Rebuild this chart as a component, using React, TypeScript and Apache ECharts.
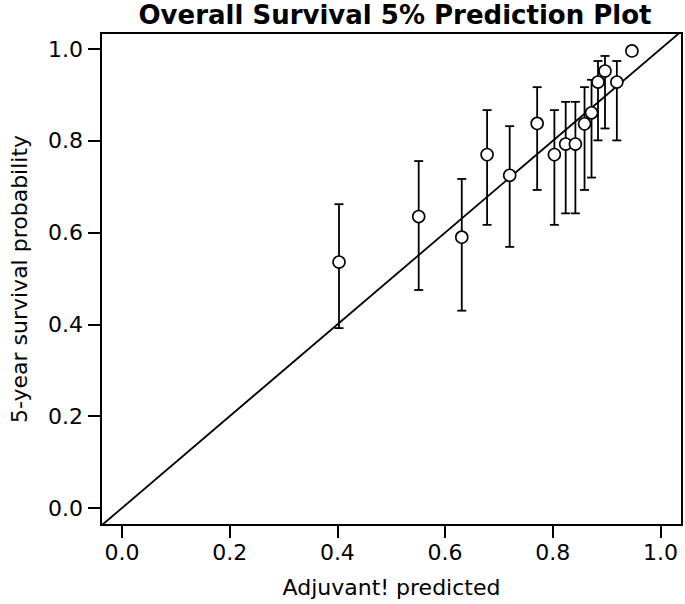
import React, { useEffect, useRef } from "react";
import * as echarts from "echarts";

const predicted = [0.403, 0.551, 0.631, 0.678, 0.72, 0.771, 0.803, 0.824, 0.842, 0.859, 0.872, 0.884, 0.897, 0.919, 0.947];
const observed = [0.536, 0.635, 0.59, 0.77, 0.725, 0.838, 0.77, 0.793, 0.793, 0.837, 0.861, 0.928, 0.952, 0.928, 0.996];
const lower = [0.392, 0.475, 0.43, 0.617, 0.569, 0.693, 0.617, 0.642, 0.642, 0.693, 0.72, 0.801, 0.827, 0.801, 0.996];
const upper = [0.662, 0.756, 0.717, 0.867, 0.832, 0.917, 0.867, 0.885, 0.885, 0.917, 0.933, 0.974, 0.985, 0.974, 0.996];
const tickValues = [0, 0.2, 0.4, 0.6, 0.8, 1.0];

const FONT = "DejaVu Sans, Liberation Sans, Arial, sans-serif";

export default function App() {
  const ref = useRef<HTMLDivElement>(null);
  useEffect(() => {
    const chart = echarts.init(ref.current!, null, { renderer: "svg" });
    const errData = predicted.map((x, i) => [x, lower[i], upper[i]]);
    chart.setOption({
      animation: false,
      backgroundColor: "#fff",
      title: {
        text: "Overall Survival 5% Prediction Plot",
        left: 390,
        textAlign: "center",
        top: -3,
        textStyle: { fontFamily: FONT, fontWeight: "bold", fontSize: 26, color: "#000" },
      },
      grid: {
        left: 93,
        right: 3,
        top: 33,
        bottom: 79,
        show: true,
        borderColor: "#000",
        borderWidth: 2,
        backgroundColor: "transparent",
      },
      xAxis: {
        type: "value",
        min: -0.039,
        max: 1.04,
        name: "Adjuvant! predicted",
        nameLocation: "middle",
        nameGap: 51,
        nameTextStyle: { fontFamily: FONT, fontSize: 22, color: "#000" },
        splitLine: { show: false },
        axisLine: { show: true, onZero: false, lineStyle: { color: "#000", width: 2 } },
        axisTick: { show: true, customValues: tickValues, length: 13, lineStyle: { color: "#000", width: 2 } },
        axisLabel: {
          customValues: tickValues,
          formatter: (v: number) => v.toFixed(1),
          fontFamily: FONT,
          fontSize: 22,
          color: "#000",
          margin: 16,
        },
      },
      yAxis: {
        type: "value",
        min: -0.037,
        max: 1.035,
        name: "5-year survival probability",
        nameLocation: "middle",
        nameGap: 71,
        nameTextStyle: { fontFamily: FONT, fontSize: 22, color: "#000" },
        splitLine: { show: false },
        axisLine: { show: true, onZero: false, lineStyle: { color: "#000", width: 2 } },
        axisTick: { show: true, customValues: tickValues, length: 13, lineStyle: { color: "#000", width: 2 } },
        axisLabel: {
          customValues: tickValues,
          formatter: (v: number) => v.toFixed(1),
          fontFamily: FONT,
          fontSize: 22,
          color: "#000",
          margin: 18,
        },
      },
      series: [
        {
          type: "line",
          data: [[-0.2, -0.2], [1.2, 1.2]],
          symbol: "none",
          clip: true,
          lineStyle: { color: "#000", width: 1.8 },
          silent: true,
          z: 1,
        },
        {
          type: "custom",
          data: errData,
          clip: true,
          z: 2,
          renderItem: (params: any, api: any) => {
            const x = api.value(0);
            const lo = api.coord([x, api.value(1)]);
            const hi = api.coord([x, api.value(2)]);
            const hw = 4.5;
            const style = { stroke: "#000", lineWidth: 1.8, fill: "none" };
            if (Math.abs(lo[1] - hi[1]) < 1) return { type: "group", children: [] };
            return {
              type: "group",
              children: [
                { type: "line", shape: { x1: lo[0], y1: lo[1], x2: hi[0], y2: hi[1] }, style },
                { type: "line", shape: { x1: lo[0] - hw, y1: lo[1], x2: lo[0] + hw, y2: lo[1] }, style },
                { type: "line", shape: { x1: hi[0] - hw, y1: hi[1], x2: hi[0] + hw, y2: hi[1] }, style },
              ],
            };
          },
        },
        {
          type: "scatter",
          data: predicted.map((x, i) => [x, observed[i]]),
          symbol: "circle",
          symbolSize: 12,
          itemStyle: { color: "#fff", borderColor: "#000", borderWidth: 1.6, opacity: 1 },
          z: 3,
        },
      ],
    });
    return () => chart.dispose();
  }, []);
  return <div ref={ref} style={{ width: 685, height: 604, position: "absolute", left: 0, top: 0 }} />;
}
